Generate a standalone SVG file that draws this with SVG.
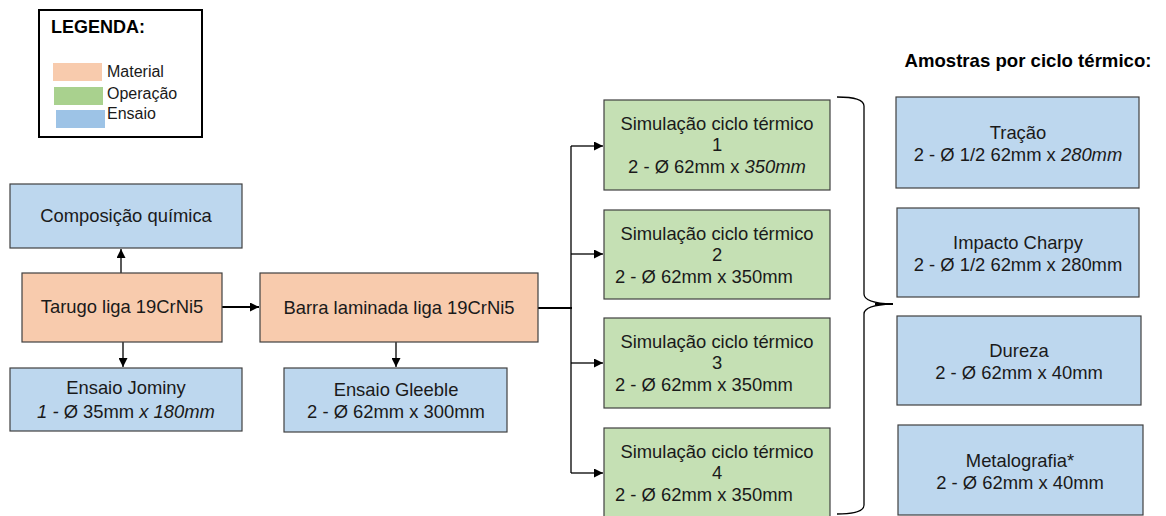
<svg xmlns="http://www.w3.org/2000/svg" width="1166" height="516" viewBox="0 0 1166 516">
<style>
text{font-family:"Liberation Sans",Arial,sans-serif;fill:#1a1a1a}
.t{font-size:18.4px;text-anchor:middle}
.s{font-size:18.4px}
.l{font-size:16px}
.h{font-size:18px;font-weight:bold;fill:#000}
.i{font-style:italic}
.box{stroke:#404040;stroke-width:1.2}
.mat{fill:#F8CBAD}
.op{fill:#C5E0B4}
.en{fill:#BDD7EE}
.c{fill:none;stroke:#000;stroke-width:1.3}
.thick{stroke-width:2.2}
</style>
<defs>
<marker id="ah" viewBox="0 0 10 10" refX="10" refY="5" markerWidth="9" markerHeight="9" markerUnits="userSpaceOnUse" orient="auto">
<path d="M0,0 L10,5 L0,10 Z" fill="#000"/>
</marker>
</defs>
<rect width="1166" height="516" fill="#fff"/>

<g id="legend">
<rect x="39" y="10" width="163" height="127" fill="#fff" stroke="#000" stroke-width="2"/>
<text class="h" x="51" y="33">LEGENDA:</text>
<rect x="53" y="63" width="49" height="18" fill="#F8CBAD"/>
<text class="l" x="107" y="77">Material</text>
<rect x="54" y="87" width="49" height="18" fill="#A9D18E"/>
<text class="l" x="107" y="99">Operação</text>
<rect x="56" y="110" width="49" height="18" fill="#9DC3E6"/>
<text class="l" x="107" y="119">Ensaio</text>
</g>

<g id="connectors">
<line class="c" x1="121" y1="273" x2="121" y2="249" marker-end="url(#ah)"/>
<line class="c" x1="123" y1="342" x2="123" y2="367" marker-end="url(#ah)"/>
<line class="c thick" x1="222" y1="307" x2="259" y2="307" marker-end="url(#ah)"/>
<line class="c" x1="396" y1="342" x2="396" y2="367" marker-end="url(#ah)"/>
<line class="c thick" x1="538" y1="308" x2="572" y2="308"/>
<line class="c" x1="571" y1="146" x2="571" y2="473"/>
<line class="c" x1="571" y1="146" x2="603" y2="146" marker-end="url(#ah)"/>
<line class="c" x1="571" y1="254" x2="603" y2="254" marker-end="url(#ah)"/>
<line class="c" x1="571" y1="363" x2="603" y2="363" marker-end="url(#ah)"/>
<line class="c" x1="571" y1="473" x2="603" y2="473" marker-end="url(#ah)"/>
<path class="c" d="M837,97 Q864,97 864,106 L864,294 Q864,303 892,304 Q864,305 864,314 L864,505 Q864,514 837,514"/>
<line x1="875" y1="304" x2="893" y2="304" stroke="#000" stroke-width="2"/>
</g>

<g id="composicao">
<rect class="box en" x="10" y="184" width="232" height="64"/>
<text class="t" x="126" y="222">Composição química</text>
</g>

<g id="tarugo">
<rect class="box mat" x="22" y="273" width="200" height="69"/>
<text class="t" x="122" y="313">Tarugo liga 19CrNi5</text>
</g>

<g id="jominy">
<rect class="box en" x="10" y="368" width="232" height="63"/>
<text class="t" x="126" y="394">Ensaio Jominy</text>
<text class="t" x="126" y="418"><tspan class="i">1 - </tspan>Ø 35mm <tspan class="i"> x 180mm</tspan></text>
</g>

<g id="barra">
<rect class="box mat" x="260" y="273" width="278" height="69"/>
<text class="t" x="399" y="314">Barra laminada liga 19CrNi5</text>
</g>

<g id="gleeble">
<rect class="box en" x="284" y="368" width="223" height="64"/>
<text class="t" x="396" y="396">Ensaio Gleeble</text>
<text class="t" x="396" y="418">2 - Ø 62mm x 300mm</text>
</g>

<g id="sim1">
<rect class="box op" x="604" y="100" width="226" height="90"/>
<text class="t" x="717" y="130">Simulação ciclo térmico</text>
<text class="t" x="717" y="151">1</text>
<text class="t" x="717" y="173">2 - Ø 62mm x <tspan class="i">350mm</tspan></text>
</g>

<g id="sim2">
<rect class="box op" x="604" y="210" width="226" height="89"/>
<text class="t" x="717" y="240">Simulação ciclo térmico</text>
<text class="t" x="717" y="261">2</text>
<text class="s" x="615" y="283">2 - Ø 62mm x 350mm</text>
</g>

<g id="sim3">
<rect class="box op" x="604" y="318" width="226" height="90"/>
<text class="t" x="717" y="348">Simulação ciclo térmico</text>
<text class="t" x="717" y="369">3</text>
<text class="s" x="615" y="391">2 - Ø 62mm x 350mm</text>
</g>

<g id="sim4">
<rect class="box op" x="604" y="428" width="226" height="92"/>
<text class="t" x="717" y="458">Simulação ciclo térmico</text>
<text class="t" x="717" y="479">4</text>
<text class="s" x="615" y="501">2 - Ø 62mm x 350mm</text>
</g>

<g id="amostras-titulo">
<text class="h" style="font-size:18.6px" x="1028" y="67" text-anchor="middle">Amostras por ciclo térmico:</text>
</g>

<g id="tracao">
<rect class="box en" x="896" y="97" width="243" height="91"/>
<text class="t" x="1018" y="139">Tração</text>
<text class="t" x="1018" y="161">2 - Ø 1/2 62mm x <tspan class="i">280mm</tspan></text>
</g>

<g id="charpy">
<rect class="box en" x="897" y="208" width="242" height="89"/>
<text class="t" x="1018" y="249">Impacto Charpy</text>
<text class="t" x="1018" y="271">2 - Ø 1/2 62mm x 280mm</text>
</g>

<g id="dureza">
<rect class="box en" x="897" y="316" width="244" height="89"/>
<text class="t" x="1019" y="357">Dureza</text>
<text class="t" x="1019" y="379">2 - Ø 62mm x 40mm</text>
</g>

<g id="metalografia">
<rect class="box en" x="898" y="425" width="245" height="90"/>
<text class="t" x="1020" y="467">Metalografia*</text>
<text class="t" x="1020" y="489">2 - Ø 62mm x 40mm</text>
</g>
</svg>
